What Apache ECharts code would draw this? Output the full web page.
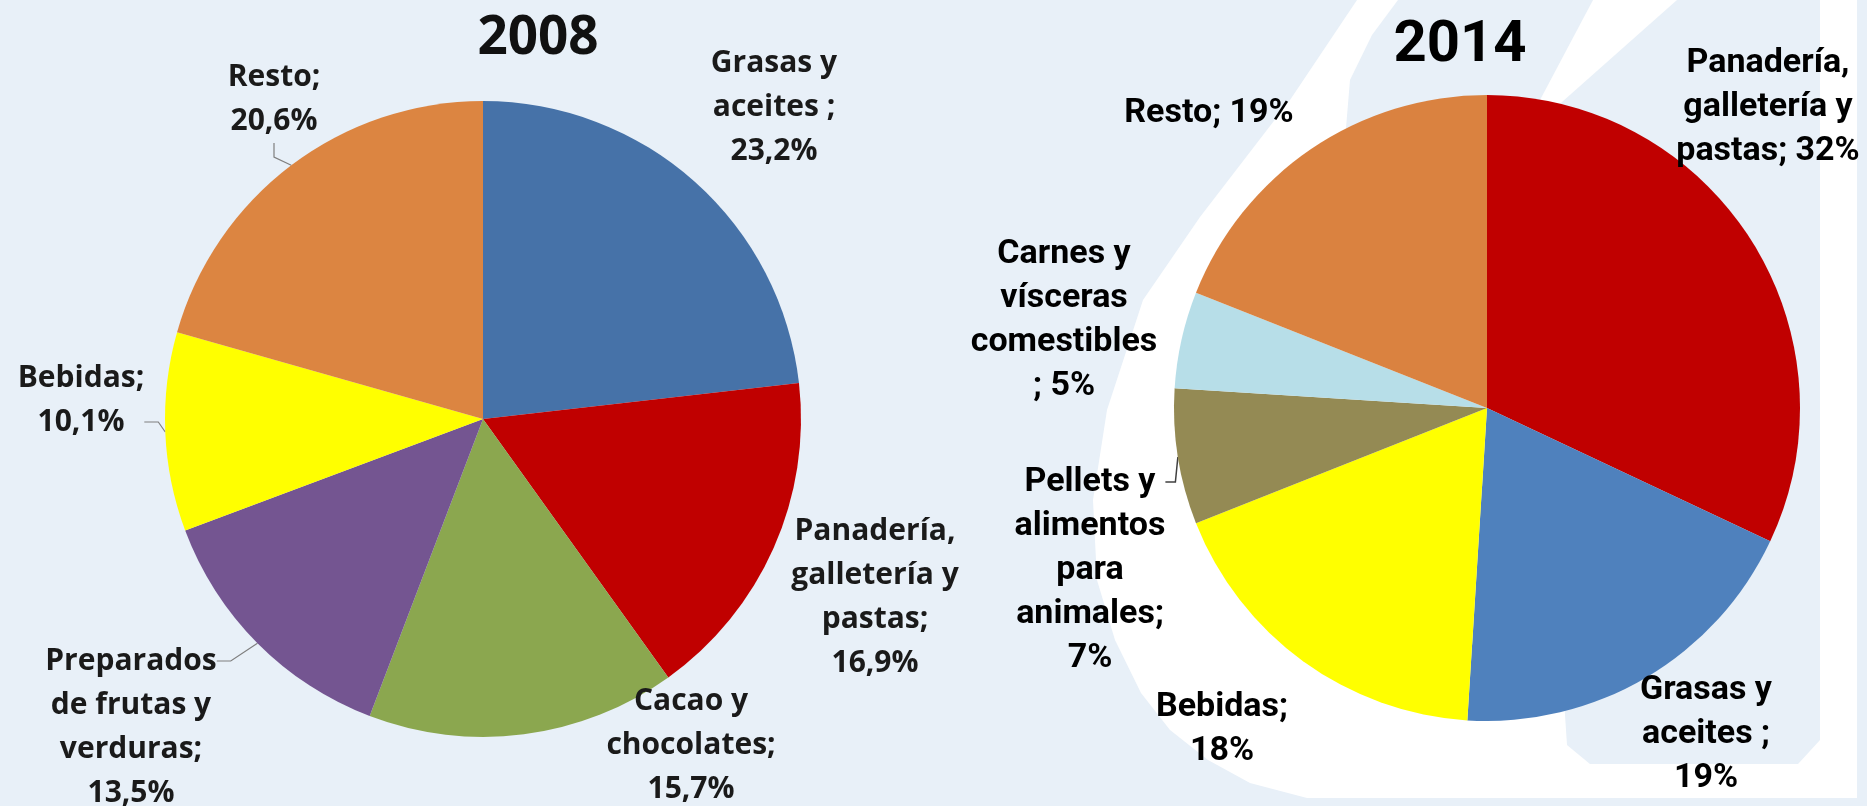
<!DOCTYPE html>
<html>
<head>
<meta charset="utf-8">
<script src="https://cdn.jsdelivr.net/npm/echarts@6/dist/echarts.min.js"></script>
<style>
  html, body { margin: 0; padding: 0; background: #E8F0F8; }
  #chart { width: 1867px; height: 806px; }
</style>
</head>
<body>
<div id="chart"></div>
<script>
// ---- data ----
const title2008 = '2008';
const categories2008 = ['Grasas y\naceites ', 'Panadería,\ngalletería y\npastas', 'Cacao y\nchocolates', 'Preparados\nde frutas y\nverduras', 'Bebidas', 'Resto'];
const values2008 = [23.2, 16.9, 15.7, 13.5, 10.1, 20.6];

const title2014 = '2014';
const categories2014 = ['Panadería,\ngalletería y\npastas', 'Grasas y\naceites ', 'Bebidas', 'Pellets y\nalimentos\npara\nanimales', 'Carnes y\nvísceras\ncomestibles\n', 'Resto'];
const values2014 = [32, 19, 18, 7, 5, 19];

// ---- styles / layout (kept out of data) ----
const colors2008 = ['#4672A8', '#C00000', '#8BA74F', '#745591', '#FFFF00', '#DC8541'];
const colors2014 = ['#C00000', '#4F81BD', '#FFFF00', '#948A54', '#B7DEE8', '#DA8240'];
const sep2008 = ['\n', '\n', '\n', '\n', '\n', '\n'];
const sep2014 = [' ', '\n', '\n', '\n', ' ', ' '];
const leader2008 = [false, false, false, true, true, true];
const leader2014 = [false, false, false, true, false, false];
// text-block centres
const labelPos2008 = [[774, 107], [875, 597], [691, 745], [131, 727], [81, 400], [274, 99]];
const labelPos2014 = [[1768, 107], [1706, 734], [1222, 729], [1090, 570], [1064, 320], [1209, 113]];
// [top, bottom] blank lines that move the leader-line attachment point
const pad2008 = [[0, 0], [0, 0], [0, 0], [3, 0], [0, 1], [0, 0]];
const pad2014 = [[0, 0], [0, 0], [0, 0], [4, 0], [0, 0], [0, 0]];
const LH = 44;

const leftFont = "'Open Sans', 'Noto Sans', sans-serif";
const rightFont = "Roboto, 'Liberation Sans', sans-serif";

function fmt2008(v) { return v.toFixed(1).replace('.', ',') + '%'; }
function fmt2014(v) { return String(v) + '%'; }

function blank(n) { let s = ''; for (let i = 0; i < n; i++) s += ' \n'; return s; }
function blankAfter(n) { let s = ''; for (let i = 0; i < n; i++) s += '\n '; return s; }

function buildData(cats, vals, colors, leaders) {
  return cats.map((c, i) => ({
    name: c,
    value: vals[i],
    itemStyle: { color: colors[i] },
    labelLine: { show: leaders[i] }
  }));
}

function layoutFn(pos, pads) {
  return p => {
    const q = pos[p.dataIndex];
    const pd = pads[p.dataIndex];
    return { x: q[0], y: q[1] - (pd[0] - pd[1]) * LH / 2, align: 'center', verticalAlign: 'middle' };
  };
}

const chart = echarts.init(document.getElementById('chart'), null, { renderer: 'canvas' });

const option = {
  backgroundColor: '#E8F0F8',
  animation: false,
  title: [
    { text: title2008, left: 533, top: 34, textAlign: 'center', textVerticalAlign: 'middle',
      textStyle: { fontFamily: leftFont, fontWeight: 'bold', fontSize: 53, color: '#111' } },
    { text: title2014, left: 1455, top: 41, textAlign: 'center', textVerticalAlign: 'middle',
      textStyle: { fontFamily: rightFont, fontWeight: 'bold', fontSize: 58, color: '#000' } }
  ],
  graphic: [
    { type: 'polygon', silent: true, z: -10,
      shape: { points: [[1357, 0], [1290, 100], [1200, 217], [1143, 300], [1107, 410], [1093, 500], [1097, 580], [1115, 640], [1141, 693], [1170, 730], [1208, 760], [1250, 783], [1307, 798], [1857, 798], [1857, 0]] },
      style: { fill: '#FFFFFF' } },
    { type: 'polygon', silent: true, z: -9,
      shape: { points: [[1398, 0], [1593, 0], [1487, 200], [1380, 200], [1345, 140], [1350, 80], [1372, 35]] },
      style: { fill: '#E8F0F8' } },
    { type: 'polygon', silent: true, z: -9,
      shape: { points: [[1677, 0], [1820, 0], [1820, 740], [1798, 764], [1590, 764], [1567, 745], [1564, 700], [1487, 408], [1500, 157]] },
      style: { fill: '#E8F0F8' } }
  ],
  series: [
    {
      type: 'pie',
      center: [483, 419],
      radius: 318,
      startAngle: 90,
      clockwise: true,
      avoidLabelOverlap: false,
      emphasis: { disabled: true },
      itemStyle: { borderWidth: 0 },
      label: {
        show: true,
        position: 'outside',
        fontFamily: leftFont,
        fontWeight: 'bold',
        fontSize: 30,
        lineHeight: LH,
        color: '#1a1a1a',
        align: 'center',
        formatter: p => blank(pad2008[p.dataIndex][0]) + p.name + ';' + sep2008[p.dataIndex] + fmt2008(p.value) + blankAfter(pad2008[p.dataIndex][1])
      },
      labelLine: { length: 0, length2: 14, lineStyle: { color: '#7F7F7F', width: 1.2 } },
      labelLayout: layoutFn(labelPos2008, pad2008),
      data: buildData(categories2008, values2008, colors2008, leader2008)
    },
    {
      type: 'pie',
      center: [1487, 408],
      radius: 313,
      startAngle: 90,
      clockwise: true,
      avoidLabelOverlap: false,
      emphasis: { disabled: true },
      itemStyle: { borderWidth: 0 },
      label: {
        show: true,
        position: 'outside',
        fontFamily: rightFont,
        fontWeight: 'bold',
        fontSize: 34,
        lineHeight: LH,
        color: '#000',
        align: 'center',
        formatter: p => blank(pad2014[p.dataIndex][0]) + p.name + ';' + sep2014[p.dataIndex] + fmt2014(p.value) + blankAfter(pad2014[p.dataIndex][1])
      },
      labelLine: { length: 0, length2: 10, lineStyle: { color: '#404040', width: 1.5 } },
      labelLayout: layoutFn(labelPos2014, pad2014),
      data: buildData(categories2014, values2014, colors2014, leader2014)
    }
  ]
};
chart.setOption(option);
</script>
</body>
</html>
